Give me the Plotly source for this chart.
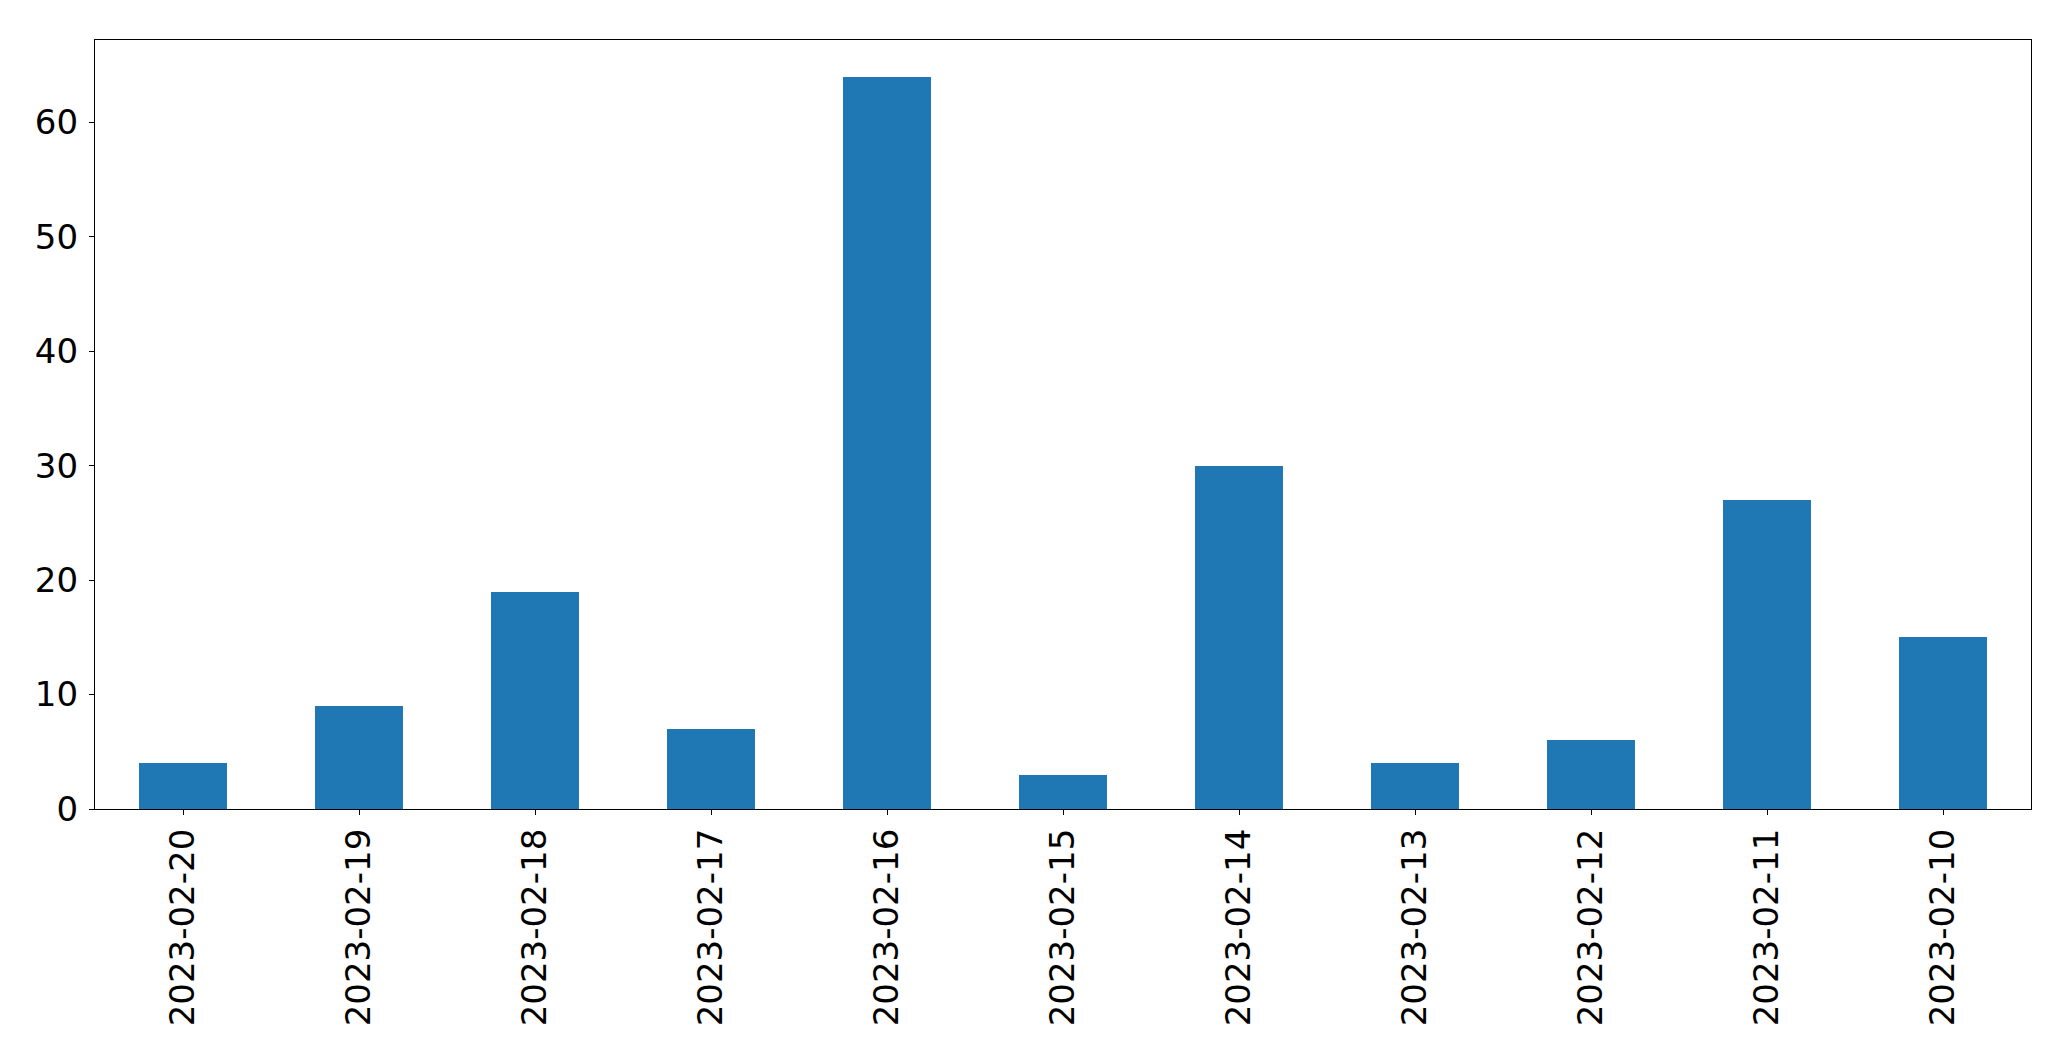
import plotly.graph_objects as go

dates = ["2023-02-20", "2023-02-19", "2023-02-18", "2023-02-17", "2023-02-16",
         "2023-02-15", "2023-02-14", "2023-02-13", "2023-02-12", "2023-02-11",
         "2023-02-10"]
counts = [4, 9, 19, 7, 64, 3, 30, 4, 6, 27, 15]
y_ticks = [0, 10, 20, 30, 40, 50, 60]

fig = go.Figure(go.Bar(x=dates, y=counts, width=0.5, marker_color="#1f77b4",
                       marker_line_width=0))

fig.update_layout(
    width=2071, height=1061,
    margin=dict(l=94.5, r=39.5, t=39.5, b=252, pad=0, autoexpand=False),
    paper_bgcolor="white", plot_bgcolor="white",
    font=dict(family="DejaVu Sans", size=34, color="black"),
    showlegend=False,
    bargap=0,
)
fig.update_xaxes(type="category", range=[-0.5, 10.5], tickangle=-90,
                 ticks="outside", ticklen=5, tickwidth=1.3, tickcolor="black",
                 showline=True, linecolor="black", linewidth=1.3, mirror=True,
                 showgrid=False, zeroline=False, ticklabelstandoff=0,
                 automargin=False)
fig.update_yaxes(range=[0, 67.2], tickvals=y_ticks,
                 ticks="outside", ticklen=5, tickwidth=1.3, tickcolor="black",
                 showline=True, linecolor="black", linewidth=1.3, mirror=True,
                 showgrid=False, zeroline=False, ticklabelstandoff=4,
                 automargin=False)

fig.write_html("out.html",
               config={"displayModeBar": False},
               post_script="document.body.style.margin='0';document.body.style.overflow='hidden';")
